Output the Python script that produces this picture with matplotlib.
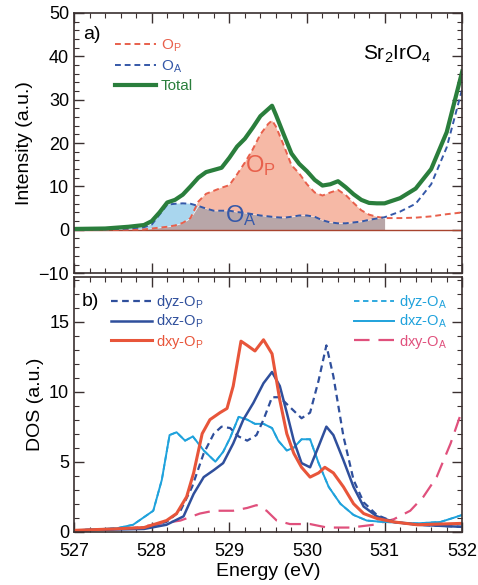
import matplotlib
matplotlib.use("Agg")
import matplotlib.pyplot as plt
import numpy as np
from matplotlib.ticker import MultipleLocator

plt.rcParams['font.family'] = ['Liberation Sans', 'DejaVu Sans']
plt.rcParams['mathtext.default'] = 'regular'

# ---- panel a) XAS-like intensity ----
E_top = [527.0, 527.4, 527.7, 527.9, 528.0, 528.1, 528.2, 528.3, 528.4, 528.5,
         528.6, 528.7, 528.8, 528.9, 529.0, 529.1, 529.2, 529.3, 529.4, 529.5,
         529.55, 529.6, 529.7, 529.8, 529.9, 530.0, 530.1, 530.2, 530.3, 530.4,
         530.5, 530.6, 530.7, 530.8, 530.9, 531.0, 531.2, 531.4, 531.6, 531.8, 532.0]
total = [0.2, 0.3, 0.7, 1.1, 2.0, 4.0, 6.3, 6.9, 8.1, 10.0,
         12.0, 13.3, 13.8, 14.3, 16.6, 19.2, 21.0, 23.5, 26.2, 27.8,
         28.6, 26.5, 22.0, 17.6, 15.2, 13.5, 11.5, 10.2, 10.5, 11.2,
         9.8, 8.2, 6.9, 6.2, 6.1, 6.1, 7.3, 9.5, 14.0, 22.5, 36.5]
O_P = [0.0, 0.0, 0.05, 0.1, 0.3, 0.5, 0.7, 1.0, 1.6, 2.7,
       6.5, 8.3, 9.0, 9.7, 10.3, 12.8, 15.5, 18.5, 22.0, 24.4,
       25.2, 23.8, 19.5, 14.9, 13.0, 10.5, 8.6, 7.9, 8.6, 9.2,
       8.0, 6.2, 4.5, 3.5, 3.0, 2.7, 2.7, 2.8, 3.1, 3.6, 4.0]
O_A = [0.0, 0.1, 0.3, 0.6, 1.2, 3.5, 5.8, 6.0, 6.1, 6.0,
       5.5, 4.9, 4.4, 4.4, 4.4, 4.1, 3.9, 3.6, 3.3, 3.1,
       3.0, 2.9, 2.8, 3.0, 3.3, 3.3, 3.0, 2.2, 1.7, 1.5,
       1.5, 1.7, 1.9, 2.3, 2.6, 2.9, 4.2, 6.0, 10.5, 19.0, 32.5]

# ---- panel b) projected DOS ----
E_dxyP = [527.0, 527.5, 527.9, 528.19, 528.32, 528.45, 528.54, 528.65, 528.75, 528.88,
          528.97, 529.05, 529.15, 529.23, 529.33, 529.44, 529.55, 529.65, 529.74, 529.83,
          529.93, 530.04, 530.15, 530.23, 530.34, 530.47, 530.60, 530.73, 530.90, 531.12,
          531.42, 532.0]
dxy_OP = [0.1, 0.2, 0.3, 0.8, 1.3, 2.5, 4.2, 7.0, 8.0, 8.5,
          8.8, 10.4, 13.6, 13.3, 12.9, 13.7, 12.7, 9.4, 7.0, 5.6,
          4.6, 3.9, 4.2, 4.6, 4.2, 3.2, 2.0, 1.3, 0.95, 0.7,
          0.5, 0.6]

E_dxzP = [527.0, 527.9, 528.19, 528.41, 528.54, 528.67, 528.80, 528.92, 529.05, 529.18,
          529.31, 529.44, 529.55, 529.65, 529.74, 529.83, 529.93, 530.04, 530.15, 530.25,
          530.34, 530.47, 530.60, 530.73, 530.90, 531.12, 531.42, 532.0]
dxz_OP = [0.1, 0.2, 0.5, 1.1, 2.7, 3.9, 4.4, 4.9, 6.3, 8.0,
          9.2, 10.6, 11.4, 10.4, 8.5, 6.5, 4.9, 4.6, 6.1, 7.5,
          6.9, 5.1, 3.2, 1.8, 1.1, 0.7, 0.5, 0.35]

E_dyzP = [527.0, 527.9, 528.19, 528.37, 528.52, 528.67, 528.80, 528.90, 529.01, 529.12,
          529.23, 529.35, 529.44, 529.55, 529.65, 529.78, 529.93, 530.04, 530.15, 530.25,
          530.34, 530.47, 530.60, 530.73, 530.90, 531.12, 531.42, 532.0]
dyz_OP = [0.1, 0.3, 0.7, 1.5, 3.2, 5.6, 7.0, 7.5, 7.4, 6.8,
          6.5, 6.9, 8.0, 9.6, 9.6, 8.9, 8.1, 8.5, 10.8, 13.3,
          11.1, 6.8, 3.7, 2.1, 1.2, 0.7, 0.5, 0.35]

E_dxzA = [527.0, 527.55, 527.76, 527.89, 528.02, 528.13, 528.23, 528.32, 528.43, 528.53,
          528.67, 528.82, 528.92, 529.01, 529.12, 529.23, 529.33, 529.44, 529.55, 529.63,
          529.74, 529.83, 529.93, 530.04, 530.15, 530.28, 530.43, 530.60, 530.77, 530.99,
          531.42, 531.72, 531.89, 532.0]
dxz_OA = [0.1, 0.25, 0.5, 1.0, 1.5, 3.7, 6.9, 7.1, 6.5, 6.8,
          5.8, 5.0, 5.7, 6.7, 8.2, 8.0, 7.7, 7.7, 7.4, 6.5,
          5.8, 6.0, 6.6, 6.6, 4.9, 3.2, 2.0, 1.2, 0.8, 0.7,
          0.6, 0.7, 1.0, 1.2]
dyz_OA = [0.1, 0.25, 0.5, 1.0, 1.5, 3.7, 6.9, 7.1, 6.5, 6.8,
          5.8, 5.0, 5.7, 6.7, 8.2, 8.0, 7.7, 7.7, 7.4, 6.5,
          5.8, 6.0, 6.6, 6.6, 4.9, 3.2, 2.0, 1.2, 0.8, 0.7,
          0.6, 0.7, 1.0, 1.2]

E_dxyA = [527.0, 527.76, 528.02, 528.37, 528.62, 528.80, 529.05, 529.23, 529.35, 529.48,
          529.61, 529.78, 530.04, 530.26, 530.56, 530.86, 531.12, 531.33, 531.50, 531.67,
          531.85, 532.0]
dxy_OA = [0.05, 0.25, 0.5, 0.8, 1.3, 1.5, 1.5, 1.7, 1.9, 1.5,
          0.8, 0.55, 0.55, 0.3, 0.3, 0.5, 0.9, 1.5, 2.5, 3.9,
          6.3, 8.7]

c_op = '#e8604c'
c_oa = '#3558a8'
c_tot = '#2a7e3c'
c_dblue = '#2f4f9c'
c_red = '#e8553a'
c_lblue = '#1fa2dc'
c_pink = '#e0507c'
spine_c = '#3a3030'

fig = plt.figure(figsize=(4.78, 5.85), dpi=100)
ax1 = fig.add_axes([0.155, 0.533, 0.812, 0.445])
ax2 = fig.add_axes([0.155, 0.091, 0.812, 0.436])

E = np.array(E_top)
op = np.array(O_P)
oa = np.array(O_A)
m = E <= 531.0
lo = np.minimum(op, oa)
ax1.fill_between(E[m], 0, lo[m], color='#b8a6a8', lw=0)
ax1.fill_between(E[m], lo[m], op[m], where=(op >= oa)[m], interpolate=True,
                 color='#f6b9a6', lw=0)
ax1.fill_between(E[m], lo[m], oa[m], where=(oa >= op)[m], interpolate=True,
                 color='#a9d6ee', lw=0)
ax1.axhline(0, color='#a8442e', lw=1)
ax1.plot(E, op, '--', color=c_op, lw=1.4, dashes=(3, 2), label='O$_P$')
ax1.plot(E, oa, '--', color=c_oa, lw=1.4, dashes=(3, 2), label='O$_A$')
ax1.plot(E, total, '-', color=c_tot, lw=3, label='Total')

ax1.set_xlim(527, 532)
ax1.set_ylim(-10, 50)
ax1.set_ylabel('Intensity (a.u.)', fontsize=14)
ax1.yaxis.set_major_locator(MultipleLocator(10))
ax1.yaxis.set_minor_locator(MultipleLocator(2))
ax1.tick_params(labelbottom=False)
ax1.text(527.12, 45, 'a)', fontsize=14, va='center')
ax1.text(530.72, 40.4, 'Sr$_2$IrO$_4$', fontsize=15, va='center')
ax1.text(529.2, 14.8, 'O$_P$', fontsize=17, color=c_op, va='center')
ax1.text(528.95, 3.2, 'O$_A$', fontsize=17, color=c_oa, va='center')
leg1 = ax1.legend(loc='upper left', bbox_to_anchor=(0.09, 0.93), frameon=False,
                  fontsize=11, handlelength=2.7, handletextpad=0.3, labelspacing=0.3,
                  borderaxespad=0)
for t, c in zip(leg1.get_texts(), [c_op, c_oa, c_tot]):
    t.set_color(c)

ax2.plot(E_dxyA, dxy_OA, color=c_pink, lw=1.6, dashes=(7, 4), label='dxy-O$_A$')
ax2.plot(E_dxzA, dyz_OA, color=c_lblue, lw=1.3, dashes=(3, 2), label='dyz-O$_A$')
ax2.plot(E_dxzA, dxz_OA, color=c_lblue, lw=1.4, label='dxz-O$_A$')
ax2.plot(E_dyzP, dyz_OP, color=c_dblue, lw=1.6, dashes=(3, 2), label='dyz-O$_P$')
ax2.plot(E_dxzP, dxz_OP, color=c_dblue, lw=1.8, label='dxz-O$_P$')
ax2.plot(E_dxyP, dxy_OP, color=c_red, lw=2.2, label='dxy-O$_P$')

ax2.set_xlim(527, 532)
ax2.set_ylim(0, 18.2)
ax2.set_xlabel('Energy (eV)', fontsize=14, labelpad=2)
ax2.set_ylabel('DOS (a.u.)', fontsize=14)
ax2.yaxis.set_major_locator(MultipleLocator(5))
ax2.yaxis.set_minor_locator(MultipleLocator(1))
ax2.text(527.1, 16.4, 'b)', fontsize=14, va='center')

h, l = ax2.get_legend_handles_labels()
leg_l = ax2.legend([h[3], h[4], h[5]], [l[3], l[4], l[5]], loc='upper left',
                   bbox_to_anchor=(0.08, 0.96), frameon=False, fontsize=10.5,
                   handlelength=2.8, handletextpad=0.3, labelspacing=0.15, borderaxespad=0)
for t, c in zip(leg_l.get_texts(), [c_dblue, c_dblue, c_red]):
    t.set_color(c)
ax2.add_artist(leg_l)
leg_r = ax2.legend([h[1], h[2], h[0]], [l[1], l[2], l[0]], loc='upper right',
                   bbox_to_anchor=(0.975, 0.96), frameon=False, fontsize=10.5,
                   handlelength=2.8, handletextpad=0.3, labelspacing=0.15, borderaxespad=0)
for t, c in zip(leg_r.get_texts(), [c_lblue, c_lblue, c_pink]):
    t.set_color(c)

for ax in (ax1, ax2):
    ax.xaxis.set_major_locator(MultipleLocator(1))
    ax.xaxis.set_minor_locator(MultipleLocator(0.2))
    ax.tick_params(which='both', direction='in', top=True, right=True,
                   color=spine_c, labelsize=13)
    ax.tick_params(which='major', length=7, width=1)
    ax.tick_params(which='minor', length=3.5, width=0.8)
    for s in ax.spines.values():
        s.set_color(spine_c)
        s.set_linewidth(1.2)

ax2.tick_params(axis='x', pad=8)
ax2.set_xticks([527, 528, 529, 530, 531, 532])
ax2.set_xticklabels(['527', '528', '529', '530', '531', '532'])

fig.savefig('out.png', dpi=100)
